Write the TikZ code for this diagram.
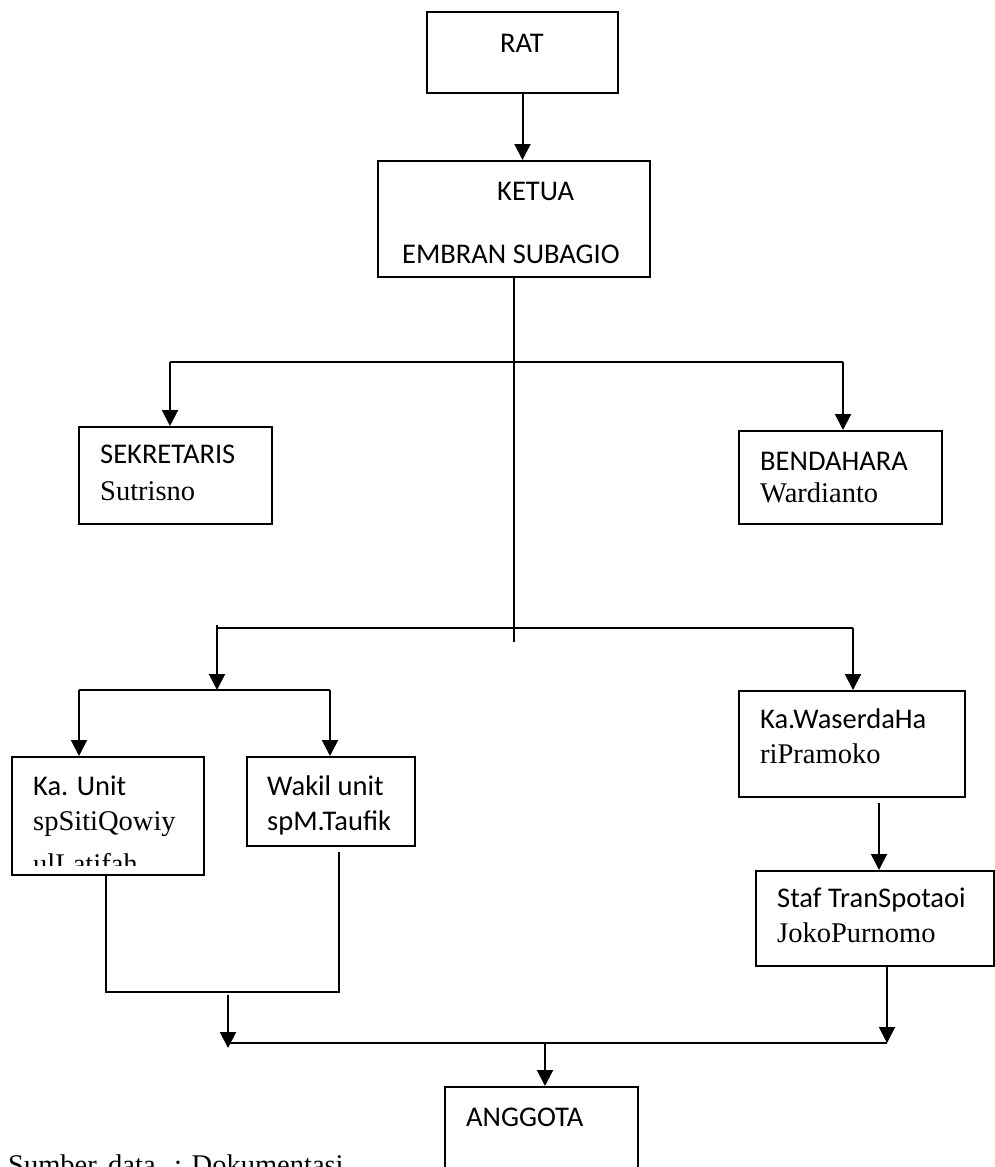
\documentclass[tikz,border=0pt]{standalone}
\usepackage{fontspec}
\setmainfont{Liberation Serif}
\newfontfamily\calfont{Carlito}
\usetikzlibrary{arrows.meta}
\tikzset{
  box/.style={draw, line width=2pt, rectangle, inner sep=0pt},
  conn/.style={line width=2pt},
  arr/.style={line width=2pt, -{Triangle[width=16pt,length=16pt]}},
  sans/.style={anchor=base west, inner sep=0pt, font=\calfont\fontsize{28.5}{33}\selectfont},
  serif/.style={anchor=base west, inner sep=0pt, font=\fontsize{28.5}{33}\selectfont},
}
\begin{document}
\begin{tikzpicture}[x=1pt,y=-1pt]
\clip (0,0) rectangle (995,1167);
\fill[white] (0,0) rectangle (995,1167);

% boxes
\node[box, minimum width=191pt, minimum height=81pt] (rat) at (522.5,52.5) {};
\node[box, minimum width=272pt, minimum height=116pt] (ketua) at (514,219) {};
\node[box, minimum width=193pt, minimum height=97pt] (sek) at (175.5,475.5) {};
\node[box, minimum width=203pt, minimum height=93pt] (ben) at (840.5,477.5) {};
\node[box, minimum width=192pt, minimum height=118pt] (kau) at (108,816) {};
\node[box, minimum width=168pt, minimum height=89pt] (wak) at (331,801.5) {};
\node[box, minimum width=226pt, minimum height=106pt] (was) at (852,744) {};
\node[box, minimum width=238pt, minimum height=95pt] (staf) at (875,918.5) {};
\node[box, minimum width=193pt, minimum height=113pt] (ang) at (541.5,1143.5) {};

% texts
\node[sans] (ratT) at (500,52) {RAT};
\node[sans] (ketT1) at (497,200) {KETUA};
\node[sans] (ketT2) at (402,263) {EMBRAN SUBAGIO};
\node[sans] (sekT1) at (100,463) {SEKRETARIS};
\node[serif] (sekT2) at (100,500) {Sutrisno};
\node[sans] (benT1) at (760,470) {BENDAHARA};
\node[serif] (benT2) at (760,502) {Wardianto};
\node[sans] (kauT1) at (33,795) {Ka. Unit};
\node[serif] (kauT2) at (33,830) {spSitiQowiy};
\begin{scope}
\clip (12,757) rectangle (204,865);
\node[serif] (kauT3) at (33,873) {ulLatifah};
\end{scope}
\node[sans] (wakT1) at (267,795) {Wakil unit};
\node[sans] (wakT2) at (267,830) {spM.Taufik};
\node[sans] (wasT1) at (760,728) {Ka.WaserdaHa};
\node[serif] (wasT2) at (760,763) {riPramoko};
\node[sans] (stafT1) at (777,907) {Staf TranSpotaoi};
\node[serif] (stafT2) at (777,942) {JokoPurnomo};
\node[sans] (angT) at (466,1126) {ANGGOTA};
\node[serif] (src) at (8,1174) {Sumber\hspace{0.15em} data\hspace{0.4em} : Dokumentasi};

% coordinates
\coordinate (trunkEnd) at (514,642);
\coordinate (h1L) at (170,362);
\coordinate (h1R) at (843,362);
\coordinate (h2L) at (217,628);
\coordinate (h2R) at (853,628);
\coordinate (h3C) at (217,690);
\coordinate (h3L) at (79,690);
\coordinate (h3R) at (330,690);
\coordinate (kauB) at (106,875);
\coordinate (wakB) at (339,852);
\coordinate (joinL) at (106,992);
\coordinate (joinR) at (339,992);
\coordinate (joinArr) at (228,992);
\coordinate (h4L) at (228,1043);
\coordinate (h4R) at (887,1043);
\coordinate (h4C) at (545,1043);
\coordinate (wasB) at (879,803);

% connectors
\draw[arr] (rat.south) -- (rat.south |- ketua.north);
\draw[conn] (ketua.south) -- (trunkEnd);
\draw[conn] (h1L) -- (h1R);
\draw[arr] (h1L) -- (h1L |- sek.north);
\draw[arr] (h1R) -- (h1R |- ben.north);
\draw[conn] (h2L) -- (h2R);
\draw[arr] ([yshift=3pt]h2L) -- (h3C);
\draw[conn] (h3L) -- (h3R);
\draw[arr] (h3L) -- (h3L |- kau.north);
\draw[arr] (h3R) -- (h3R |- wak.north);
\draw[arr] (h2R) -- (h2R |- was.north);
\draw[arr] (wasB) -- (wasB |- staf.north);
\draw[conn] (kauB) -- (joinL) -- (joinR) -- (wakB);
\draw[arr] ([yshift=-3pt]joinArr) -- ([yshift=-5pt]h4L);
\draw[conn] (h4L) -- (h4R);
\draw[arr] (h4R |- staf.south) -- (h4R);
\draw[arr] (h4C) -- (h4C |- ang.north);
\end{tikzpicture}
\end{document}
